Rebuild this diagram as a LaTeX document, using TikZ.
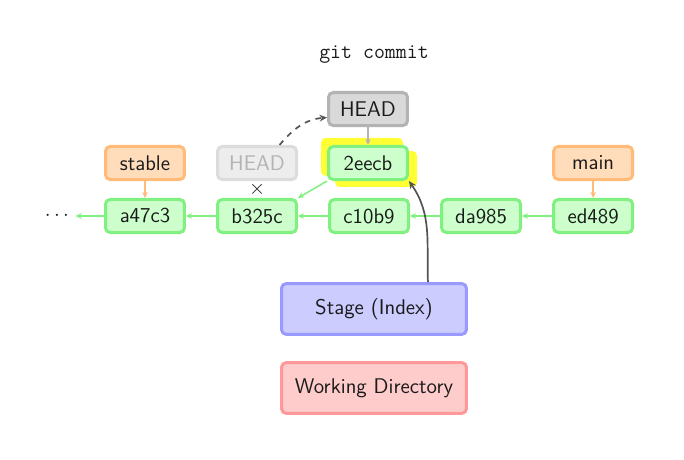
\documentclass[tikz,border=0pt]{standalone}
\usetikzlibrary{arrows.meta,positioning,calc}
\definecolor{ink}{HTML}{1A1A1A}
\definecolor{cmt}{HTML}{CCFFCC}
\definecolor{cmtline}{HTML}{80F080}
\definecolor{brn}{HTML}{FFDDBB}
\definecolor{brnline}{HTML}{FFBB77}
\definecolor{hd}{HTML}{D9D9D9}
\definecolor{hdline}{HTML}{B3B3B3}
\definecolor{old}{HTML}{EDEDED}
\definecolor{oldline}{HTML}{DCDCDC}
\definecolor{oldtext}{HTML}{B3B3B3}
\definecolor{stg}{HTML}{CCCCFF}
\definecolor{stgline}{HTML}{9999FF}
\definecolor{wd}{HTML}{FFCCCC}
\definecolor{wdline}{HTML}{FF9999}
\definecolor{glow}{HTML}{FFFF33}
\begin{document}
\begin{tikzpicture}[
  x=0.532pt, y=-0.532pt,
  font=\sffamily\fontsize{11.3}{13}\selectfont, color=ink, node distance=9pt and 16pt,
  box/.style={draw=cmtline, fill=cmt, rounded corners=2.5pt, minimum width=42pt,
              minimum height=17.6pt, inner sep=0pt, line width=1.6pt},
  branch/.style={box, draw=brnline, fill=brn},
  headbox/.style={box, draw=hdline, fill=hd},
  oldbox/.style={box, draw=oldline, fill=old, text=oldtext},
  area/.style={box, minimum width=98.4pt, minimum height=27pt},
  parent/.style={-{Stealth[length=3.2pt,width=3pt]}, line width=0.8pt, color=cmtline},
  ref/.style={parent, color=brnline},
  hdref/.style={parent, color=hdline},
  move/.style={-{Stealth[length=4pt,width=3.6pt]}, line width=0.9pt, color=ink!75},
]
\useasboundingbox (0,0) rectangle (684,460);

% title
\node[font=\ttfamily\fontsize{11.3}{13}\selectfont] (cmd) at (374,55) {git commit};

% commits
\node[box] (a47c3) at (145,216) {a47c3};
\node[box, right=of a47c3] (b325c) {b325c};
\node[box, right=of b325c] (c10b9) {c10b9};
\node[box, right=of c10b9] (da985) {da985};
\node[box, right=of da985] (ed489) {ed489};
\node (dots) at (57,216) {$\cdots$};

% new commit with highlight
\fill[glow, rounded corners=2.5pt] (321,138) rectangle (403,176);
\fill[glow, rounded corners=2.5pt] (335,151) rectangle (417,187);
\node[box] (c2eecb) at (368,163) {2eecb};

% refs
\node[branch, above=of a47c3] (stable) {stable};
\node[oldbox, above=of b325c] (oldhead) {HEAD};
\node[branch, above=of ed489] (main) {main};
\node[headbox, above=9.5pt of c2eecb] (head) {HEAD};

% areas
\node[area, draw=stgline, fill=stg] (stage) at (374,309) {Stage (Index)};
\node[area, draw=wdline, fill=wd] (wdir) at (374,388) {Working Directory};

% parents
\draw[parent] (a47c3) -- (dots);
\draw[parent] (b325c) -- (a47c3);
\draw[parent] (c10b9) -- (b325c);
\draw[parent] (da985) -- (c10b9);
\draw[parent] (ed489) -- (da985);
\draw[parent] (c2eecb.south west) -- (b325c.north east);

% refs pointing
\draw[ref] (stable) -- (a47c3);
\draw[ref] (main) -- (ed489);
\draw[hdref] (head) -- (c2eecb);
\node[inner sep=0pt] (cross) at ($(oldhead.south)!0.5!(b325c.north)$) {$\times$};

% moves
\draw[move, dashed] ([xshift=12pt]oldhead.north) to[out=50, in=185] ([yshift=-4.5pt]head.west);
\draw[move] ([xshift=28.7pt]stage.north) to[out=92, in=-55] (c2eecb.south east);
\end{tikzpicture}
\end{document}
